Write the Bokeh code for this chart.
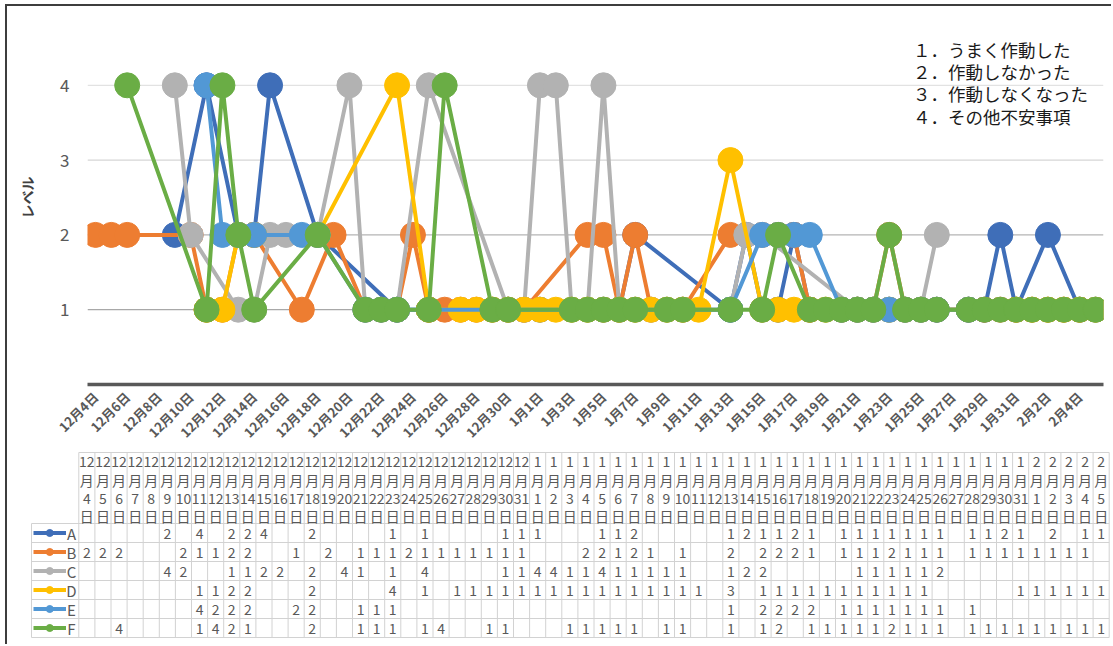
import math
import pandas as pd
from bokeh.plotting import figure
from bokeh.models import Range1d, FixedTicker, Span, Label, ColumnDataSource
from bokeh.core.properties import value
from bokeh.embed import file_html
from bokeh.resources import INLINE

N = None
JP = "Noto Sans CJK JP"
GREY_TXT = "#595959"

# Category axis: one entry per day
dates = pd.date_range("2017-12-04", "2018-02-05", freq="D")
months = [str(d.month) for d in dates]
days = [str(d.day) for d in dates]
day_labels = [f"{m}月{d}日" for m, d in zip(months, days)]

names = ["A", "B", "C", "D", "E", "F"]
colors = ["#3F6EB8", "#ED7D31", "#B2B2B2", "#FFC000", "#5298D5", "#6AAD45"]

# Daily levels per person (None = no entry that day)
level_a = [N, N, N, N, N, 2, N, 4,
           N, 2, 2, 4, N, N, 2, N,
           N, N, N, 1, N, 1, N, N,
           N, N, 1, 1, 1, N, N, N,
           1, 1, 2, N, N, N, N, N,
           1, 2, 1, 1, 2, 1, N, 1,
           1, 1, 1, 1, 1, 1, N, 1,
           1, 2, 1, N, 2, N, 1, 1]
level_b = [2, 2, 2, N, N, N, 2, 1,
           1, 2, 2, N, N, 1, N, 2,
           N, 1, 1, 1, 2, 1, 1, 1,
           1, 1, 1, 1, N, N, N, 2,
           2, 1, 2, 1, N, 1, N, N,
           2, N, 2, 2, 2, 1, N, 1,
           1, 1, 2, 1, 1, 1, N, 1,
           1, 1, 1, 1, 1, 1, 1, N]
level_c = [N, N, N, N, N, 4, 2, N,
           N, 1, 1, 2, 2, N, 2, N,
           4, 1, N, 1, N, 4, N, N,
           N, N, 1, 1, 4, 4, 1, 1,
           4, 1, 1, 1, 1, 1, N, N,
           1, 2, 2, N, N, N, N, N,
           1, 1, 1, 1, 1, 2, N, N,
           N, N, N, N, N, N, N, N]
level_d = [N, N, N, N, N, N, N, 1,
           1, 2, 2, N, N, N, 2, N,
           N, N, N, 4, N, 1, N, 1,
           1, 1, 1, 1, 1, 1, 1, 1,
           1, 1, 1, 1, 1, 1, 1, N,
           3, N, 1, 1, 1, 1, 1, 1,
           1, 1, 1, 1, 1, N, N, N,
           N, N, 1, 1, 1, 1, 1, 1]
level_e = [N, N, N, N, N, N, N, 4,
           2, 2, 2, N, N, 2, 2, N,
           N, 1, 1, 1, N, N, N, N,
           N, N, N, N, N, N, N, N,
           N, N, N, N, N, N, N, N,
           1, N, 2, 2, 2, 2, N, 1,
           1, 1, 1, 1, 1, 1, N, 1,
           N, N, N, N, N, N, N, N]
level_f = [N, N, 4, N, N, N, N, 1,
           4, 2, 1, N, N, N, 2, N,
           N, 1, 1, 1, N, 1, 4, N,
           N, 1, 1, N, N, N, 1, 1,
           1, 1, 1, N, 1, 1, N, N,
           1, N, 1, 2, N, 1, 1, 1,
           1, 1, 2, 1, 1, 1, N, 1,
           1, 1, 1, 1, 1, 1, 1, 1]
levels = [level_a, level_b, level_c, level_d, level_e, level_f]

level_ticks = [1, 2, 3, 4]
grid_colors = ["#A8A8A8", "#B4B4B4", "#D6D6D6", "#E2E2E2"]
notes = ["１．うまく作動した", "２．作動しなかった", "３．作動しなくなった", "４．その他不安事項"]

n = len(dates)
BORDER = "2px solid #3d3d3d"

# ---------------- line chart ----------------
p = figure(width=1106, height=446, x_range=Range1d(-0.5, n - 0.5), y_range=Range1d(0, 5),
           output_backend="svg", toolbar_location=None,
           min_border_left=80, min_border_right=10, min_border_top=4, min_border_bottom=68,
           margin=(4, 0, 0, 5), styles={"border-top": BORDER, "border-left": BORDER})
p.outline_line_color = None
p.xgrid.grid_line_color = None
p.ygrid.grid_line_color = None
for lv, gc in zip(level_ticks, grid_colors):
    p.add_layout(Span(location=lv, dimension="width", line_color=gc, line_width=1.3, level="underlay"))

for vals, col in zip(levels, colors):
    xs = [i for i, v in enumerate(vals) if v is not None]
    ys = [v for v in vals if v is not None]
    p.line(xs, ys, line_color=col, line_width=4, line_join="round")
    p.scatter(xs, ys, size=25, fill_color=col, line_color=col)

p.xaxis.ticker = FixedTicker(ticks=list(range(0, n, 2)))
p.xaxis.major_label_overrides = {i: day_labels[i] for i in range(0, n, 2)}
p.xaxis.major_label_orientation = math.pi / 4
p.xaxis.major_label_text_font = JP
p.xaxis.major_label_text_font_size = "13px"
p.xaxis.major_label_text_font_style = "bold"
p.xaxis.major_label_text_color = GREY_TXT
p.xaxis.major_label_standoff = 4
p.xaxis.axis_line_color = "#595959"
p.xaxis.axis_line_width = 3.5
p.xaxis.major_tick_line_color = None
p.xaxis.minor_tick_line_color = None

p.yaxis.ticker = FixedTicker(ticks=level_ticks)
p.yaxis.axis_label = "レベル"
p.yaxis.axis_label_text_font = JP
p.yaxis.axis_label_text_font_style = "bold"
p.yaxis.axis_label_text_font_size = "14px"
p.yaxis.axis_label_text_color = "#404040"
p.yaxis.axis_label_standoff = 20
p.yaxis.major_label_text_font = JP
p.yaxis.major_label_text_font_size = "17px"
p.yaxis.major_label_text_color = GREY_TXT
p.yaxis.major_label_standoff = 12
p.yaxis.axis_line_color = None
p.yaxis.major_tick_line_color = None
p.yaxis.minor_tick_line_color = None

for k, note in enumerate(notes):
    p.add_layout(Label(x=51.5, y=4.48 - 0.297 * k, text=note, text_font=JP,
                       text_font_size="17.5px", text_color="#1a1a1a", text_baseline="middle"))

# ---------------- data table ----------------
cw = 16.1  # px per day column
x0 = -0.5 - (78.3 - 7) / cw
x1 = x0 + 1106 / cw
t = figure(width=1106, height=194, x_range=Range1d(x0, x1), y_range=Range1d(-5.868, 4.342),
           output_backend="svg", toolbar_location=None, x_axis_type=None, y_axis_type=None,
           min_border=0, margin=(0, 0, 0, 5), styles={"border-left": BORDER})
t.outline_line_color = None
t.xgrid.grid_line_color = None
t.ygrid.grid_line_color = None

head_top = 4.237
key_left = -0.5 - (78.3 - 31) / cw
rows = len(names)
seg = dict(x0=[], y0=[], x1=[], y1=[])
def add_seg(a, b, c, d):
    seg["x0"].append(a); seg["y0"].append(b); seg["x1"].append(c); seg["y1"].append(d)
for i in range(n + 1):
    add_seg(i - 0.5, head_top, i - 0.5, 0.5 - rows)
add_seg(key_left, 0.5, key_left, 0.5 - rows)
add_seg(-0.5, head_top, n - 0.5, head_top)
for r in range(rows + 1):
    add_seg(key_left, 0.5 - r, n - 0.5, 0.5 - r)
t.segment("x0", "y0", "x1", "y1", source=ColumnDataSource(seg), line_color="#D2D2D2", line_width=1)

head_rows = [3.76, 2.80, 1.83, 0.87]
hx, hy, ht = [], [], []
for i in range(n):
    for yy, s in zip(head_rows, [months[i], "月", days[i], "日"]):
        hx.append(i); hy.append(yy); ht.append(s)
t.text(hx, hy, text=ht, text_font=value(JP), text_font_size="14px", text_color=GREY_TXT,
       text_align="center", text_baseline="middle")

vx, vy, vt = [], [], []
for r, vals in enumerate(levels):
    for i, v in enumerate(vals):
        if v is not None:
            vx.append(i); vy.append(-r); vt.append(str(v))
t.text(vx, vy, text=vt, text_font=value(JP), text_font_size="14px", text_color=GREY_TXT,
       text_align="center", text_baseline="middle")

ky = [-r for r in range(rows)]
k0 = -0.5 - (78.3 - 33) / cw
k1 = -0.5 - (78.3 - 65.5) / cw
t.segment([k0] * rows, ky, [k1] * rows, ky, line_color=colors, line_width=4)
t.scatter([(k0 + k1) / 2] * rows, ky, size=7, fill_color=colors, line_color=colors)
t.text([-0.5 - (78.3 - 71) / cw] * rows, ky, text=names, text_font=value(JP),
       text_font_size="15px", text_color=GREY_TXT, text_align="center", text_baseline="middle")

open("out.html", "w").write(file_html([p, t], INLINE))
